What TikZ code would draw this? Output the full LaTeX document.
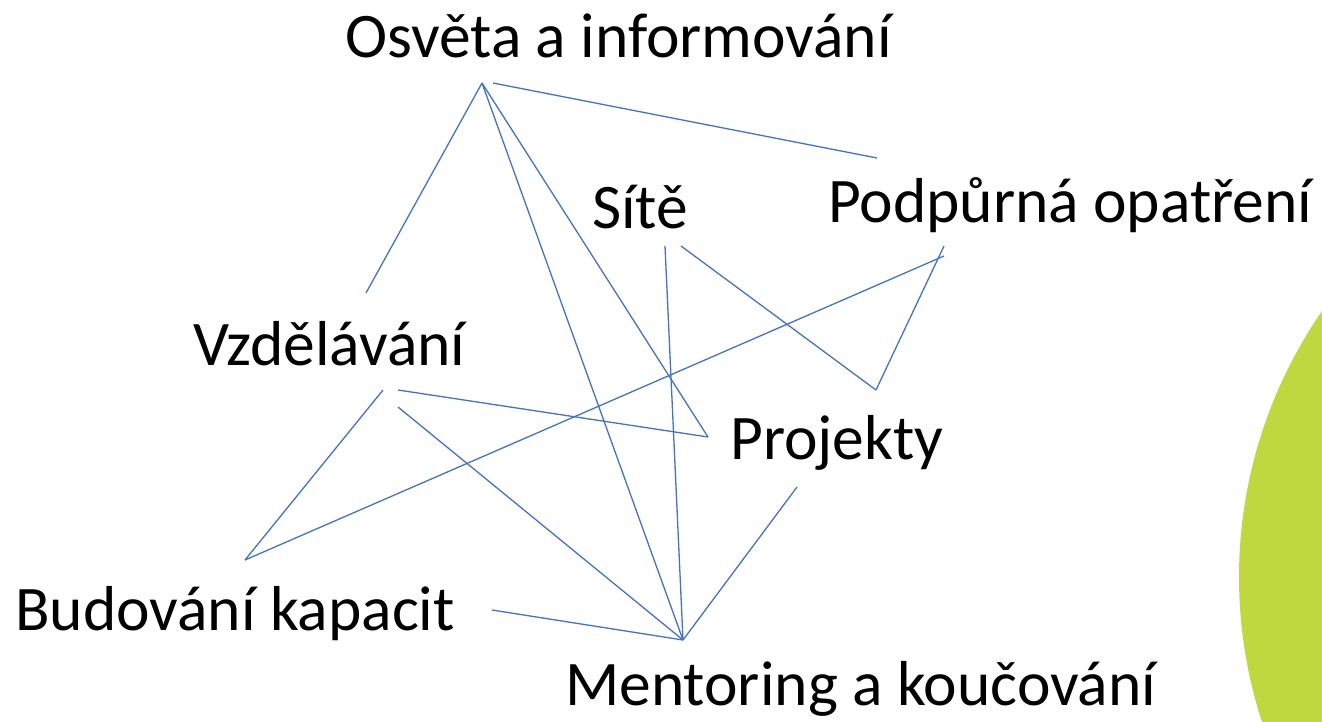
\documentclass[tikz,border=0pt]{standalone}
\usepackage{fontspec}
\setmainfont{Carlito}
\definecolor{linkblue}{HTML}{4472C4}
\definecolor{leafgreen}{HTML}{BFD83F}
\begin{document}
\begin{tikzpicture}[x=1pt,y=-1pt,
    lbl/.style={anchor=base west,inner sep=0pt,font=\fontsize{63.5}{72}\selectfont},
    link/.style={draw=linkblue,line width=1.3pt}]
  \useasboundingbox (0,0) rectangle (1322,721);
  \begin{scope}
    \clip (0,0) rectangle (1322,721);
    \fill[leafgreen] (1739,577) ellipse [x radius=500, y radius=482];
  \end{scope}
  \draw
    (345,57) node[lbl] (osveta){Osvěta a informování}
    (828,222) node[lbl] (podpora){Podpůrná opatření}
    (592,228) node[lbl] (site){Sítě}
    (193,365) node[lbl] (vzdelavani){Vzdělávání}
    (730,459) node[lbl] (projekty){Projekty}
    (15,630) node[lbl] (budovani){Budování kapacit}
    (565,705) node[lbl] (mentoring){Mentoring a koučování};
  % line ends
  \coordinate (osv1) at (482,83);
  \coordinate (osv2) at (493,83);
  \coordinate (pod1) at (877,158);
  \coordinate (pod2) at (944,246);
  \coordinate (pod3) at (944,256);
  \coordinate (vzd1) at (366,293);
  \coordinate (vzd2) at (383,390);
  \coordinate (vzd3) at (398,390);
  \coordinate (vzd4) at (398,407);
  \coordinate (sit1) at (665,246);
  \coordinate (sit2) at (681,246);
  \coordinate (pro1) at (876,390);
  \coordinate (pro2) at (708,437);
  \coordinate (pro3) at (797,487);
  \coordinate (bud1) at (245,560);
  \coordinate (bud2) at (492,610);
  \coordinate (men1) at (683,640);
  \begin{scope}[link]
    \draw (osv1) to (vzd1);
    \draw (osv1) to (men1);
    \draw (osv1) to (pro2);
    \draw (osv2) to (pod1);
    \draw (sit1) to (men1);
    \draw (sit2) to (pro1);
    \draw (pro1) to (pod2);
    \draw (pod3) to (bud1);
    \draw (bud1) to (vzd2);
    \draw (vzd3) to (pro2);
    \draw (vzd4) to (men1);
    \draw (bud2) to (men1);
    \draw (pro3) to (men1);
  \end{scope}
\end{tikzpicture}
\end{document}
